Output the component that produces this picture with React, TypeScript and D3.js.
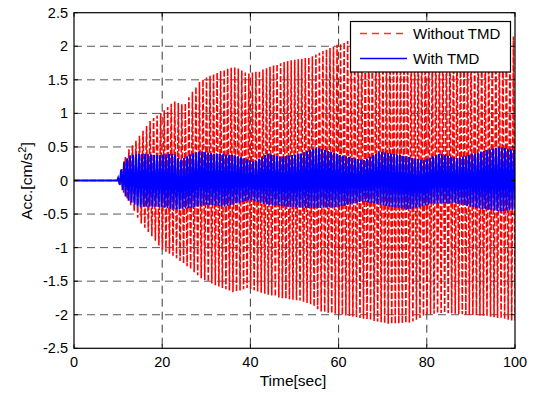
import React from "react";
import * as d3 from "d3";

// x ticks / y ticks
const xTicks = [0, 20, 40, 60, 80, 100];
const yTicks = [-2.5, -2, -1.5, -1, -0.5, 0, 0.5, 1, 1.5, 2, 2.5];
const yTickLabels = ["-2.5", "-2", "-1.5", "-1", "-0.5", "0", "0.5", "1", "1.5", "2", "2.5"];

// Envelopes: [time (s), acceleration (cm/s^2)]
const redUpper: [number, number][] = [
  [0, 0], [10, 0], [11, 0.2], [12, 0.43], [13.6, 0.55], [15, 0.68], [17.4, 0.9], [20, 1.02],
  [22.7, 1.18], [25, 1.12], [26.5, 1.29], [28.7, 1.49], [31.7, 1.59], [34.8, 1.67], [36.7, 1.69],
  [39.3, 1.59], [42.3, 1.64], [45.4, 1.72], [49, 1.79], [51.2, 1.81], [53.7, 1.84], [55.8, 1.91],
  [60.3, 2.04], [62.6, 2.09], [70, 2.1], [80, 2.1], [90, 2.12], [97, 2.1], [100, 2.15],
];
const redLower: [number, number][] = [
  [0, 0], [10, 0], [11.3, -0.19], [13.2, -0.41], [15.1, -0.63], [17.4, -0.81], [20, -1.03],
  [22.7, -1.13], [25.7, -1.28], [28.7, -1.45], [31.7, -1.55], [36.3, -1.67], [39.3, -1.6],
  [42.3, -1.67], [46.9, -1.75], [51.3, -1.79], [54, -1.85], [55.8, -1.95], [62.6, -2.02],
  [67.9, -2.09], [71.7, -2.14], [76.2, -2.12], [80, -2.0], [83.8, -1.97], [89.1, -2.0],
  [93.6, -2.02], [98.1, -2.07], [100, -2.1],
];
const blueUpper: [number, number][] = [
  [0, 0], [9.8, 0], [11.3, 0.28], [12.8, 0.38], [15.1, 0.4], [18.9, 0.38], [22.7, 0.4],
  [24.2, 0.3], [26.5, 0.4], [28.7, 0.44], [31.7, 0.4], [36.3, 0.38], [40.8, 0.28], [43.8, 0.4],
  [46.9, 0.35], [51.4, 0.4], [54, 0.47], [55.8, 0.48], [60.3, 0.38], [65.6, 0.3], [69.4, 0.43],
  [73.9, 0.38], [79.2, 0.3], [83, 0.4], [86.8, 0.33], [90.6, 0.4], [96.6, 0.5], [100, 0.45],
];
const blueLower: [number, number][] = [
  [0, 0], [9.8, 0], [10.6, -0.09], [12.1, -0.29], [14.4, -0.39], [18.9, -0.39], [22.7, -0.43],
  [26.5, -0.41], [30.2, -0.36], [34, -0.39], [37, -0.34], [40, -0.29], [43.8, -0.36],
  [48.4, -0.39], [52.9, -0.41], [55.8, -0.41], [60.3, -0.39], [65.6, -0.31], [71.7, -0.39],
  [76.2, -0.43], [81.5, -0.34], [86.8, -0.34], [91.3, -0.41], [96.6, -0.46], [100, -0.43],
];

const ONSET = 9.8;
const RED_HALF_PERIOD = 0.4; // seconds between successive peaks
const BLUE_HALF_PERIOD = 0.34;

function envAt(env: [number, number][], t: number) {
  const times = env.map((d) => d[0]);
  const vals = env.map((d) => d[1]);
  return d3.scaleLinear(times, vals).clamp(true)(t);
}

function zigzag(upper: [number, number][], lower: [number, number][], offset: number, half: number) {
  const pts: [number, number][] = [[0, 0], [ONSET, 0]];
  let k = 0;
  for (let t = ONSET + offset; t <= 100.5; t += half, k++) {
    pts.push([t, k % 2 === 0 ? envAt(upper, t) : envAt(lower, t)]);
  }
  return pts;
}

const L = 74, R = 515, T = 12.7, B = 348.3;

export default function App() {
  const x = d3.scaleLinear([0, 100], [L, R]);
  const y = d3.scaleLinear([-2.5, 2.5], [B, T]);
  const line = d3.line<[number, number]>().x((d) => x(d[0])).y((d) => y(d[1]));
  const red = zigzag(redUpper, redLower, 0.25, RED_HALF_PERIOD);
  const blue = zigzag(blueUpper, blueLower, 0.2, BLUE_HALF_PERIOD);
  const font = "Liberation Sans, Arial, sans-serif";
  return (
    <svg width={535} height={395} style={{ position: "absolute", left: 0, top: 0, background: "#fff" }}
      fontFamily={font}>
      <defs>
        <clipPath id="plotclip">
          <rect x={L} y={T} width={R - L} height={B - T} />
        </clipPath>
      </defs>
      <rect x={0} y={0} width={535} height={395} fill="#fff" />
      {/* grid */}
      {xTicks.slice(1, -1).map((v) => (
        <line key={"gx" + v} x1={x(v)} x2={x(v)} y1={T} y2={B} stroke="#222" strokeWidth={0.9} strokeDasharray="8,5" />
      ))}
      {yTicks.slice(1, -1).map((v) => (
        <line key={"gy" + v} x1={L} x2={R} y1={y(v)} y2={y(v)} stroke="#444" strokeWidth={0.9} strokeDasharray="8,5" />
      ))}
      <g clipPath="url(#plotclip)">
        <path d={line(red) || ""} fill="none" stroke="#ff0000" strokeWidth={1.6} strokeDasharray="6,2" />
        <path d={line(blue) || ""} fill="none" stroke="#0000ff" strokeWidth={1.9} />
      </g>
      {/* axes box */}
      <rect x={L} y={T} width={R - L} height={B - T} fill="none" stroke="#000" strokeWidth={1.2} />
      {/* ticks */}
      {xTicks.map((v) => (
        <g key={"tx" + v}>
          <line x1={x(v)} x2={x(v)} y1={B} y2={B - 4} stroke="#000" />
          <line x1={x(v)} x2={x(v)} y1={T} y2={T + 4} stroke="#000" />
          <text x={x(v)} y={367} fontSize={14.5} textAnchor="middle" fill="#000">{v}</text>
        </g>
      ))}
      {yTicks.map((v, i) => (
        <g key={"ty" + v}>
          <line x1={L} x2={L + 4} y1={y(v)} y2={y(v)} stroke="#000" />
          <line x1={R} x2={R - 4} y1={y(v)} y2={y(v)} stroke="#000" />
          <text x={68} y={y(v) + 5} fontSize={14.5} textAnchor="end" fill="#000">{yTickLabels[i]}</text>
        </g>
      ))}
      {/* axis labels */}
      <text x={293} y={386} fontSize={15.5} textAnchor="middle" fill="#000">Time[sec]</text>
      <text transform={`translate(32,181) rotate(-90)`} fontSize={15.5} textAnchor="middle" fill="#000">
        Acc.[cm/s<tspan fontSize={11} dy={-6}>2</tspan><tspan dy={6}>]</tspan>
      </text>
      {/* legend */}
      <rect x={350.5} y={21.5} width={160} height={50.5} fill="#fff" stroke="#000" strokeWidth={1.2} />
      <line x1={360} x2={407} y1={33.5} y2={33.5} stroke="#ff3333" strokeWidth={1.5} strokeDasharray="7,5" />
      <text x={413} y={38.5} fontSize={15} fill="#000">Without TMD</text>
      <line x1={360} x2={407} y1={58.5} y2={58.5} stroke="#0000ff" strokeWidth={1.5} />
      <text x={413} y={63.5} fontSize={15} fill="#000">With TMD</text>
    </svg>
  );
}
